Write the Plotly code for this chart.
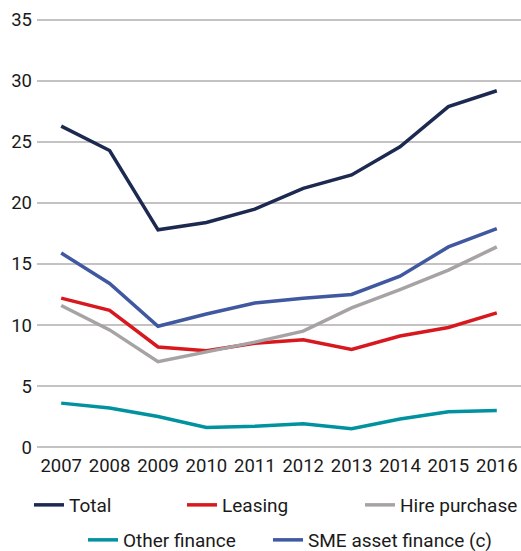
import plotly.graph_objects as go

years = ["2007", "2008", "2009", "2010", "2011", "2012", "2013", "2014", "2015", "2016"]
total = [26.3, 24.3, 17.8, 18.4, 19.5, 21.2, 22.3, 24.6, 27.9, 29.2]
leasing = [12.2, 11.2, 8.2, 7.9, 8.5, 8.8, 8.0, 9.1, 9.8, 11.0]
hire_purchase = [11.6, 9.6, 7.0, 7.8, 8.6, 9.5, 11.4, 12.9, 14.5, 16.4]
other_finance = [3.6, 3.2, 2.5, 1.6, 1.7, 1.9, 1.5, 2.3, 2.9, 3.0]
sme_asset = [15.9, 13.4, 9.9, 10.9, 11.8, 12.2, 12.5, 14.0, 16.4, 17.9]
y_ticks = [0, 5, 10, 15, 20, 25, 30, 35]

W, H = 521, 551
series = [
    ("Total", total, "#1c2951", "legend", 29, 505),
    ("Leasing", leasing, "#d7191f", "legend2", 182, 505),
    ("Hire purchase", hire_purchase, "#a7a3a5", "legend3", 360, 505),
    ("Other finance", other_finance, "#00929f", "legend4", 83, 540),
    ("SME asset finance (c)", sme_asset, "#3f58a0", "legend5", 268, 540),
]

FONT = "Roboto"
fig = go.Figure()
xs = list(range(len(years)))
for name, vals, color, lg, lx, ly in series:
    fig.add_trace(go.Scatter(x=xs, y=vals, name=name, mode="lines",
                             line=dict(color=color, width=3.5), legend=lg,
                             showlegend=True))

font = dict(family=FONT, size=18.5, color="#1a1a1a")
layout = dict(
    width=W, height=H,
    showlegend=True,
    margin=dict(l=37, r=0, t=18, b=102, autoexpand=False),
    paper_bgcolor="white", plot_bgcolor="white",
    font=font,
    xaxis=dict(range=[-0.5, 9.5], tickmode="array", tickvals=xs, ticktext=years,
               showgrid=False, zeroline=False, showline=False, ticks="",
               tickfont=font, automargin=False, ticklabelstandoff=3),
    yaxis=dict(range=[-0.16, 35.16], tickmode="array", tickvals=y_ticks, showgrid=True,
               gridcolor="#c4c2c2", gridwidth=1.5, zeroline=False, showline=False,
               ticks="", tickfont=font, automargin=False, ticklabelstandoff=4),
)
for name, vals, color, lg, lx, ly in series:
    layout[lg] = dict(x=lx / W, y=1 - ly / H, xref="container", yref="container",
                      xanchor="left", yanchor="middle", orientation="h",
                      font=dict(family=FONT, size=19, color="#1a1a1a"),
                      bgcolor="rgba(0,0,0,0)")
fig.update_layout(**layout)
fig.write_html(
    "out.html",
    config={"displayModeBar": False},
    post_script="document.body.style.margin='0';document.body.style.overflow='hidden';"
                "document.documentElement.style.overflow='hidden';",
)
